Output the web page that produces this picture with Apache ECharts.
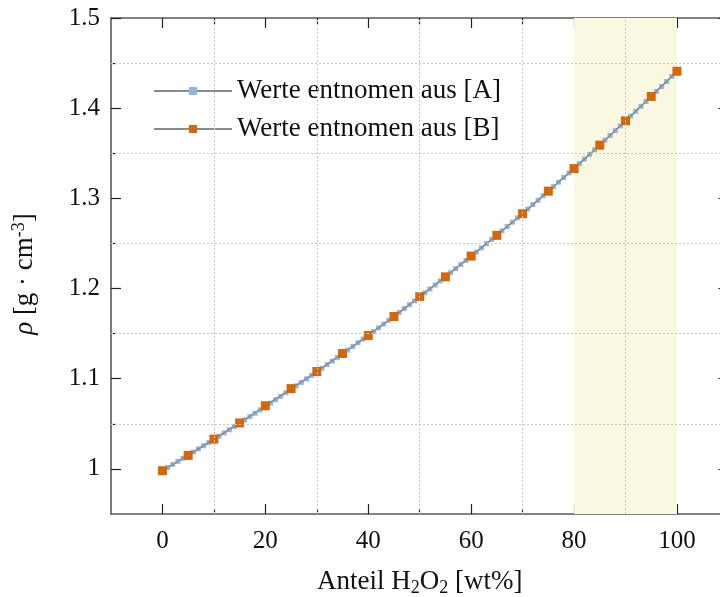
<!DOCTYPE html>
<html><head><meta charset="utf-8">
<script src="https://cdn.jsdelivr.net/npm/echarts@6/dist/echarts.min.js"></script>
<style>html,body{margin:0;padding:0;background:#fff}#c{width:720px;height:597px}</style>
</head><body><div id="c"></div>
<script>
// Series A: every 1 wt%
const wtA = [0,1,2,3,4,5,6,7,8,9,10,11,12,13,14,15,16,17,18,19,20,21,22,23,24,25,26,27,28,29,30,31,32,33,34,35,36,37,38,39,40,41,42,43,44,45,46,47,48,49,50,51,52,53,54,55,56,57,58,59,60,61,62,63,64,65,66,67,68,69,70,71,72,73,74,75,76,77,78,79,80,81,82,83,84,85,86,87,88,89,90,91,92,93,94,95,96,97,98,99,100];
const rhoA = [0.9982,1.0016,1.0050,1.0084,1.0118,1.0152,1.0187,1.0222,1.0257,1.0292,
  1.0327,1.0362,1.0398,1.0434,1.0470,1.0506,1.0543,1.0580,1.0617,1.0654,
  1.0691,1.0729,1.0767,1.0805,1.0843,1.0881,1.0920,1.0959,1.0998,1.1037,
  1.1076,1.1116,1.1156,1.1196,1.1236,1.1276,1.1317,1.1358,1.1399,1.1440,
  1.1481,1.1523,1.1565,1.1607,1.1649,1.1692,1.1735,1.1778,1.1821,1.1864,
  1.1908,1.1952,1.1996,1.2040,1.2085,1.2130,1.2175,1.2220,1.2266,1.2312,
  1.2358,1.2404,1.2451,1.2498,1.2545,1.2592,1.2640,1.2688,1.2736,1.2784,
  1.2833,1.2882,1.2931,1.2980,1.3030,1.3080,1.3130,1.3180,1.3231,1.3282,
  1.3333,1.3384,1.3436,1.3488,1.3540,1.3592,1.3645,1.3698,1.3751,1.3804,
  1.3858,1.3912,1.3966,1.4020,1.4075,1.4130,1.4185,1.4240,1.4296,1.4352,
  1.4408];
// Series B: every 5 wt%
const wtB = [0,5,10,15,20,25,30,35,40,45,50,55,60,65,70,75,80,85,90,95,100];
const rhoB = [0.998,1.015,1.033,1.051,1.070,1.089,1.108,1.128,1.148,1.169,1.191,1.213,1.236,1.259,1.283,1.308,1.333,1.359,1.386,1.413,1.441];
const seriesNames = ['Werte entnomen aus [A]', 'Werte entnomen aus [B]'];
// tick labels / tick positions
const xMajorTicks = [0,20,40,60,80,100];
const xMinorTicks = [10,30,50,70,90];
const yMajorTicks = [1,1.1,1.2,1.3,1.4,1.5];
const yMinorTicks = [1.05,1.15,1.25,1.35,1.45];
const highlightRange = [80,100];

const FONT = 'Liberation Serif';
const axisCol = '#5a5a5a';
const gridStyle = {color:'#c8c8c8', type:[2,2], width:1};

const chart = echarts.init(document.getElementById('c'), null, {renderer:'canvas'});
const gridLines = xMinorTicks.map(v=>({xAxis:v})).concat(yMinorTicks.map(v=>({yAxis:v})));

function xAx(pos, ticks, len, extra){
  return Object.assign({
    type:'value', min:-10, max:110, interval:10, position:pos,
    axisLine:{show:true, onZero:false, lineStyle:{color:axisCol, width:1.6}},
    axisTick:{show:true, inside:true, length:len, customValues:ticks, lineStyle:{color:'#222', width:1.2}},
    axisLabel:{show:false}, splitLine:{show:false}
  }, extra||{});
}
function yAx(pos, ticks, len, extra){
  return Object.assign({
    type:'value', min:0.95, max:1.5, interval:0.05, position:pos,
    axisLine:{show:true, onZero:false, lineStyle:{color:axisCol, width:1.6}},
    axisTick:{show:true, inside:true, length:len, customValues:ticks, lineStyle:{color:'#222', width:1.2}},
    axisLabel:{show:false}, splitLine:{show:false}
  }, extra||{});
}

chart.setOption({
  animation:false,
  backgroundColor:'#fff',
  grid:{left:111, top:18, width:617.4, height:496, containLabel:false, outerBoundsMode:'none'},
  legend:{
    orient:'vertical', left:148, top:71,
    itemWidth:78, itemHeight:10, itemGap:8,
    data:seriesNames,
    textStyle:{fontFamily:FONT, fontSize:27, color:'#111', lineHeight:30}
  },
  xAxis:[
    xAx('bottom', xMajorTicks, 10, {
      name:'{n|Anteil H}{s|2}{n|O}{s|2}{n| [wt%]}', nameLocation:'middle', nameGap:53,
      nameTextStyle:{rich:{n:{fontFamily:FONT,fontSize:27,color:'#111',lineHeight:30}, s:{fontFamily:FONT,fontSize:18,color:'#111',lineHeight:30,padding:[12,0,0,0]}}},
      axisLabel:{show:true, customValues:xMajorTicks, formatter:v=>String(v), fontFamily:FONT, fontSize:25, color:'#111', margin:15}
    }),
    xAx('bottom', xMinorTicks, 6, {axisLine:{show:false, onZero:false}}),
    xAx('top', xMajorTicks, 10),
    xAx('top', xMinorTicks, 6, {axisLine:{show:false, onZero:false}})
  ],
  yAxis:[
    yAx('left', yMajorTicks, 10, {
      name:'{i|ρ} [g · cm{p|-3}]', nameLocation:'middle', nameGap:70, nameRotate:90,
      nameTextStyle:{padding:[0,16,0,0], rich:{i:{fontFamily:FONT,fontStyle:'italic',fontSize:27,color:'#111',lineHeight:32}, p:{fontFamily:FONT,fontSize:18,color:'#111',lineHeight:32,padding:[0,0,12,0]}}, fontFamily:FONT, fontSize:27, color:'#111'},
      axisLabel:{show:true, customValues:yMajorTicks, formatter:v=>String(Math.round(v*10)/10), fontFamily:FONT, fontSize:25, color:'#111', margin:11}
    }),
    yAx('left', yMinorTicks, 6, {axisLine:{show:false, onZero:false}}),
    yAx('right', yMajorTicks, 10),
    yAx('right', yMinorTicks, 6, {axisLine:{show:false, onZero:false}})
  ],
  series:[{
    name:seriesNames[0], type:'line', xAxisIndex:0, yAxisIndex:0,
    data:wtA.map((x,i)=>[x,rhoA[i]]),
    symbol:'rect', symbolSize:5, showAllSymbol:true, z:3,
    lineStyle:{color:'#8a8a8a', width:1.3},
    itemStyle:{color:'#92b6de', borderWidth:0},
    markArea:{silent:true, itemStyle:{color:'#faf8e0'}, data:[[{xAxis:highlightRange[0]},{xAxis:highlightRange[1]}]], z:1},
    markLine:{silent:true, symbol:['none','none'], label:{show:false}, lineStyle:gridStyle, data:gridLines, animation:false}
  },{
    name:seriesNames[1], type:'line', xAxisIndex:0, yAxisIndex:0,
    data:wtB.map((x,i)=>[x,rhoB[i]]),
    symbol:'rect', symbolSize:9, z:4,
    lineStyle:{color:'#8a8a8a', width:1.3},
    itemStyle:{color:'#d2670c', borderWidth:0}
  }]
});
</script></body></html>
